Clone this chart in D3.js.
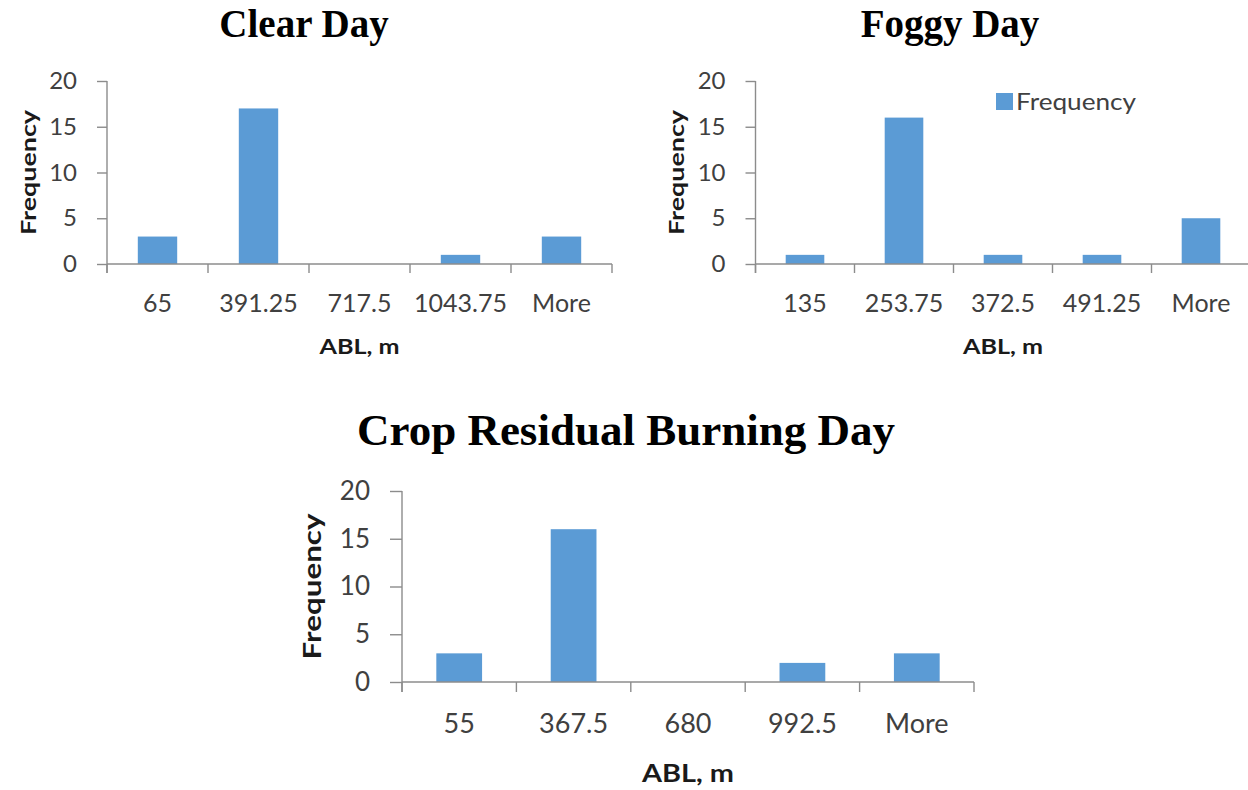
<!DOCTYPE html>
<html>
<head>
<meta charset="utf-8">
<script src="https://cdn.jsdelivr.net/npm/d3@7/dist/d3.min.js"></script>
<style>
  html, body { margin: 0; padding: 0; background: #fff; }
  svg { display: block; }
</style>
</head>
<body>
<svg id="fig" width="1248" height="790"></svg>
<script>
// ABL (atmospheric boundary layer height) histogram bins and counts
const clearBins = ["65", "391.25", "717.5", "1043.75", "More"];
const clearFreq = [3, 17, 0, 1, 3];

const foggyBins = ["135", "253.75", "372.5", "491.25", "More"];
const foggyFreq = [1, 16, 1, 1, 5];

const cropBins = ["55", "367.5", "680", "992.5", "More"];
const cropFreq = [3, 16, 0, 2, 3];

const yTicks = [0, 5, 10, 15, 20];

const BAR = "#5b9bd5";
const AXIS = "#8c8c8c";
const LABEL = "#404040";
const SANS = "Lato, 'Open Sans', sans-serif";
const SERIF = "'Liberation Serif', 'Times New Roman', serif";

const svg = d3.select("#fig");

function panel(cfg) {
  const g = svg.append("g");
  const x = d3.scaleBand()
    .domain(cfg.bins)
    .range([cfg.x0, cfg.x1])
    .paddingInner(cfg.pad)
    .paddingOuter(cfg.pad / 2);
  const y = d3.scaleLinear().domain([0, 20]).range([cfg.yBase, cfg.yTop]);
  const step = x.step();

  // title
  g.append("text")
    .attr("x", cfg.titleX).attr("y", cfg.titleY)
    .attr("text-anchor", "middle")
    .style("font-family", SERIF).style("font-weight", "bold")
    .style("font-size", cfg.titleSize + "px").attr("fill", "#000")
    .text(cfg.title);

  // bars
  g.selectAll("rect.bar").data(cfg.freq.map((v, i) => ({ bin: cfg.bins[i], v })))
    .enter().append("rect").attr("class", "bar")
    .attr("x", d => x(d.bin))
    .attr("width", x.bandwidth())
    .attr("y", d => y(d.v))
    .attr("height", d => y(0) - y(d.v))
    .attr("fill", BAR);

  // y axis
  const ya = g.append("g")
    .attr("transform", `translate(${cfg.x0},0)`)
    .call(d3.axisLeft(y).tickValues(yTicks).tickSize(cfg.yTickLen).tickPadding(cfg.yPad));
  ya.select(".domain").remove();
  ya.selectAll(".tick line").attr("stroke", AXIS).attr("stroke-width", 1.4);
  ya.selectAll(".tick text")
    .style("font-family", SANS).style("font-size", cfg.yFont + "px").attr("fill", LABEL);
  g.append("line")
    .attr("x1", cfg.x0).attr("x2", cfg.x0)
    .attr("y1", y(20)).attr("y2", y(0) + cfg.xTickLen)
    .attr("stroke", AXIS).attr("stroke-width", 1.4);

  // x axis: labels centred on bins, ticks on bin boundaries
  const xa = g.append("g")
    .attr("transform", `translate(0,${y(0)})`)
    .call(d3.axisBottom(x).tickSize(0).tickPadding(cfg.xPad));
  xa.select(".domain").remove();
  xa.selectAll(".tick text")
    .style("font-family", SANS).style("font-size", cfg.xFont + "px").attr("fill", LABEL);
  g.append("line")
    .attr("x1", cfg.x0).attr("x2", cfg.x1)
    .attr("y1", y(0)).attr("y2", y(0))
    .attr("stroke", AXIS).attr("stroke-width", 1.4);
  const bounds = d3.range(cfg.bins.length + 1).map(i => cfg.x0 + i * step);
  g.selectAll("line.xt").data(bounds).enter().append("line").attr("class", "xt")
    .attr("x1", d => d).attr("x2", d => d)
    .attr("y1", y(0)).attr("y2", y(0) + cfg.xTickLen)
    .attr("stroke", AXIS).attr("stroke-width", 1.4);

  // axis titles
  g.append("text")
    .attr("x", (cfg.x0 + cfg.x1) / 2).attr("y", cfg.xTitleY)
    .attr("text-anchor", "middle")
    .attr("textLength", cfg.xTitleLen).attr("lengthAdjust", "spacingAndGlyphs")
    .style("font-family", SANS).style("font-weight", "bold")
    .style("font-size", cfg.xTitleFont + "px").attr("fill", "#1a1a1a")
    .text("ABL, m");
  g.append("text")
    .attr("transform", `translate(${cfg.yTitleX},${(y(0) + y(20)) / 2 + cfg.yTitleShift}) rotate(-90)`)
    .attr("text-anchor", "middle").attr("dominant-baseline", "central")
    .attr("textLength", cfg.yTitleLen).attr("lengthAdjust", "spacingAndGlyphs")
    .style("font-family", SANS).style("font-weight", "bold")
    .style("font-size", cfg.yTitleFont + "px").attr("fill", "#1a1a1a")
    .text("Frequency");

  return { g, x, y };
}

panel({
  title: "Clear Day", titleX: 304, titleY: 37, titleSize: 39,
  bins: clearBins, freq: clearFreq,
  x0: 107, x1: 612, yBase: 264, yTop: 81, pad: 0.61,
  yTickLen: 10, yPad: 20, yFont: 24, xTickLen: 9, xPad: 30, xFont: 25,
  xTitleY: 354, xTitleLen: 80, xTitleFont: 21,
  yTitleX: 27, yTitleShift: 0, yTitleLen: 125, yTitleFont: 21
});

const fog = panel({
  title: "Foggy Day", titleX: 950, titleY: 37, titleSize: 39,
  bins: foggyBins, freq: foggyFreq,
  x0: 755.5, x1: 1250.5, yBase: 264, yTop: 81, pad: 0.61,
  yTickLen: 10, yPad: 20, yFont: 24, xTickLen: 9, xPad: 30, xFont: 25,
  xTitleY: 354, xTitleLen: 80, xTitleFont: 21,
  yTitleX: 675, yTitleShift: 0, yTitleLen: 125, yTitleFont: 21
});

// legend
const leg = fog.g.append("g").attr("transform", "translate(996,93)");
leg.append("rect").attr("width", 17).attr("height", 17).attr("fill", BAR);
leg.append("text").attr("x", 20).attr("y", 17)
  .attr("textLength", 120).attr("lengthAdjust", "spacingAndGlyphs")
  .style("font-family", SANS).style("font-size", "24px").attr("fill", LABEL)
  .text("Frequency");

panel({
  title: "Crop Residual Burning Day", titleX: 626, titleY: 445, titleSize: 45,
  bins: cropBins, freq: cropFreq,
  x0: 402, x1: 974, yBase: 682, yTop: 491, pad: 0.6,
  yTickLen: 12, yPad: 20, yFont: 26, xTickLen: 10, xPad: 32, xFont: 27,
  xTitleY: 782, xTitleLen: 92, xTitleFont: 24,
  yTitleX: 311, yTitleShift: 0, yTitleLen: 146, yTitleFont: 24
});
</script>
</body>
</html>
